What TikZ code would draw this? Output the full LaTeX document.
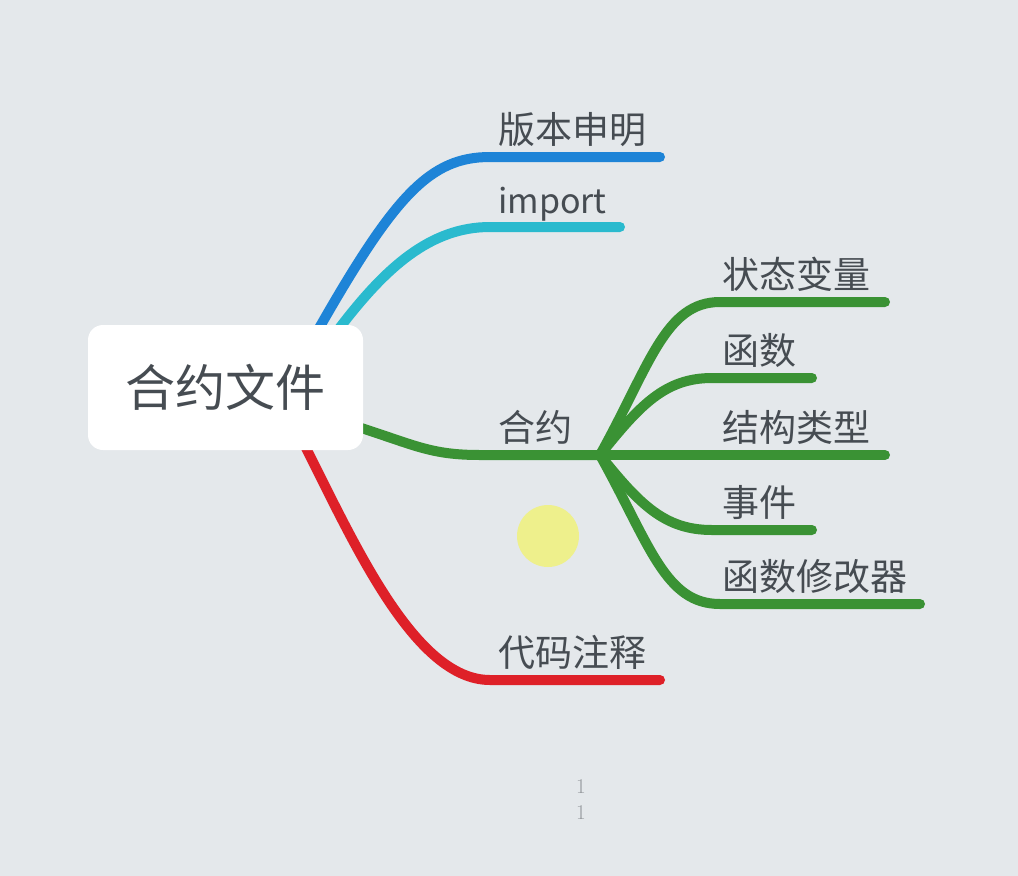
\documentclass[tikz,border=0pt]{standalone}
\usepackage{fontspec}
\newfontfamily\cjk{Noto Sans CJK SC}
\definecolor{bg}{RGB}{228,232,235}
\definecolor{txt}{RGB}{70,76,82}
\definecolor{cblue}{RGB}{30,132,215}
\definecolor{ccyan}{RGB}{42,186,206}
\definecolor{cgreen}{RGB}{58,146,52}
\definecolor{cred}{RGB}{222,32,40}
\definecolor{cyel}{RGB}{238,240,140}
\definecolor{cnum}{RGB}{150,154,158}
\tikzset{
  branch/.style={line width=10pt, line cap=round},
  lbl/.style={anchor=base west, inner sep=0pt, text=txt, font=\cjk\fontsize{37}{40}\selectfont},
  rootbox/.style={fill=white, rounded corners=15pt, minimum width=275pt, minimum height=125pt, text=txt, font=\cjk\fontsize{50}{56}\selectfont},
  numlbl/.style={text=cnum, font=\fontsize{21}{24}\selectfont}
}
\begin{document}
\begin{tikzpicture}[x=1pt,y=-1pt]
\useasboundingbox (0,0) rectangle (1018,876);
\fill[bg] (0,0) rectangle (1018,876);

% branch starts (under root box)
\coordinate (sBlue) at (318,330);
\coordinate (sCyan) at (338,330);
\coordinate (sGreen) at (355,426);
\coordinate (sRed) at (305,446);
% bends and ends
\coordinate (bBlue) at (490,157);  \coordinate (eBlue) at (660,157);
\coordinate (bCyan) at (490,227);  \coordinate (eCyan) at (620,227);
\coordinate (bGreen) at (480,455); \coordinate (jGreen) at (600,455);
\coordinate (bRed) at (490,680);   \coordinate (eRed) at (660,680);
\coordinate (b1) at (720,302); \coordinate (e1) at (885,302);
\coordinate (b2) at (712,378); \coordinate (e2) at (812,378);
\coordinate (e3) at (885,455);
\coordinate (b4) at (712,530); \coordinate (e4) at (812,530);
\coordinate (b5) at (720,604); \coordinate (e5) at (920,604);

% first-level branches
\draw[branch, cblue] (sBlue) .. controls (395,195) and (430,157) .. (bBlue) -- (eBlue);
\draw[branch, ccyan] (sCyan) .. controls (385,268) and (430,227) .. (bCyan) -- (eCyan);
\draw[branch, cgreen] (sGreen) .. controls (415,445) and (430,455) .. (bGreen) -- (jGreen);
\draw[branch, cred] (sRed) .. controls (355,545) and (415,680) .. (bRed) -- (eRed);

% second-level branches
\draw[branch, cgreen] (jGreen) .. controls (650,365) and (665,302) .. (b1) -- (e1);
\draw[branch, cgreen] (jGreen) .. controls (640,405) and (665,378) .. (b2) -- (e2);
\draw[branch, cgreen] (jGreen) -- (e3);
\draw[branch, cgreen] (jGreen) .. controls (640,505) and (665,530) .. (b4) -- (e4);
\draw[branch, cgreen] (jGreen) .. controls (650,545) and (665,604) .. (b5) -- (e5);

% root
\node[rootbox] (root) at (225.5,387.5) {合约文件};

% labels
\node[lbl] (l1) at (498,143) {版本申明};
\node[lbl, font=\cjk\fontsize{34}{38}\selectfont] (l2) at (498,213) {import};
\node[lbl] (l3) at (498,441) {合约};
\node[lbl] (l4) at (498,666) {代码注释};
\node[lbl] (m1) at (722,288) {状态变量};
\node[lbl] (m2) at (722,364) {函数};
\node[lbl] (m3) at (722,441) {结构类型};
\node[lbl] (m4) at (722,516) {事件};
\node[lbl] (m5) at (722,590) {函数修改器};

% highlight circle
\fill[cyel] (548,536) circle (31);

% page numbers
\node[numlbl] (n1) at (581,787) {1};
\node[numlbl] (n2) at (581,813) {1};
\end{tikzpicture}
\end{document}
